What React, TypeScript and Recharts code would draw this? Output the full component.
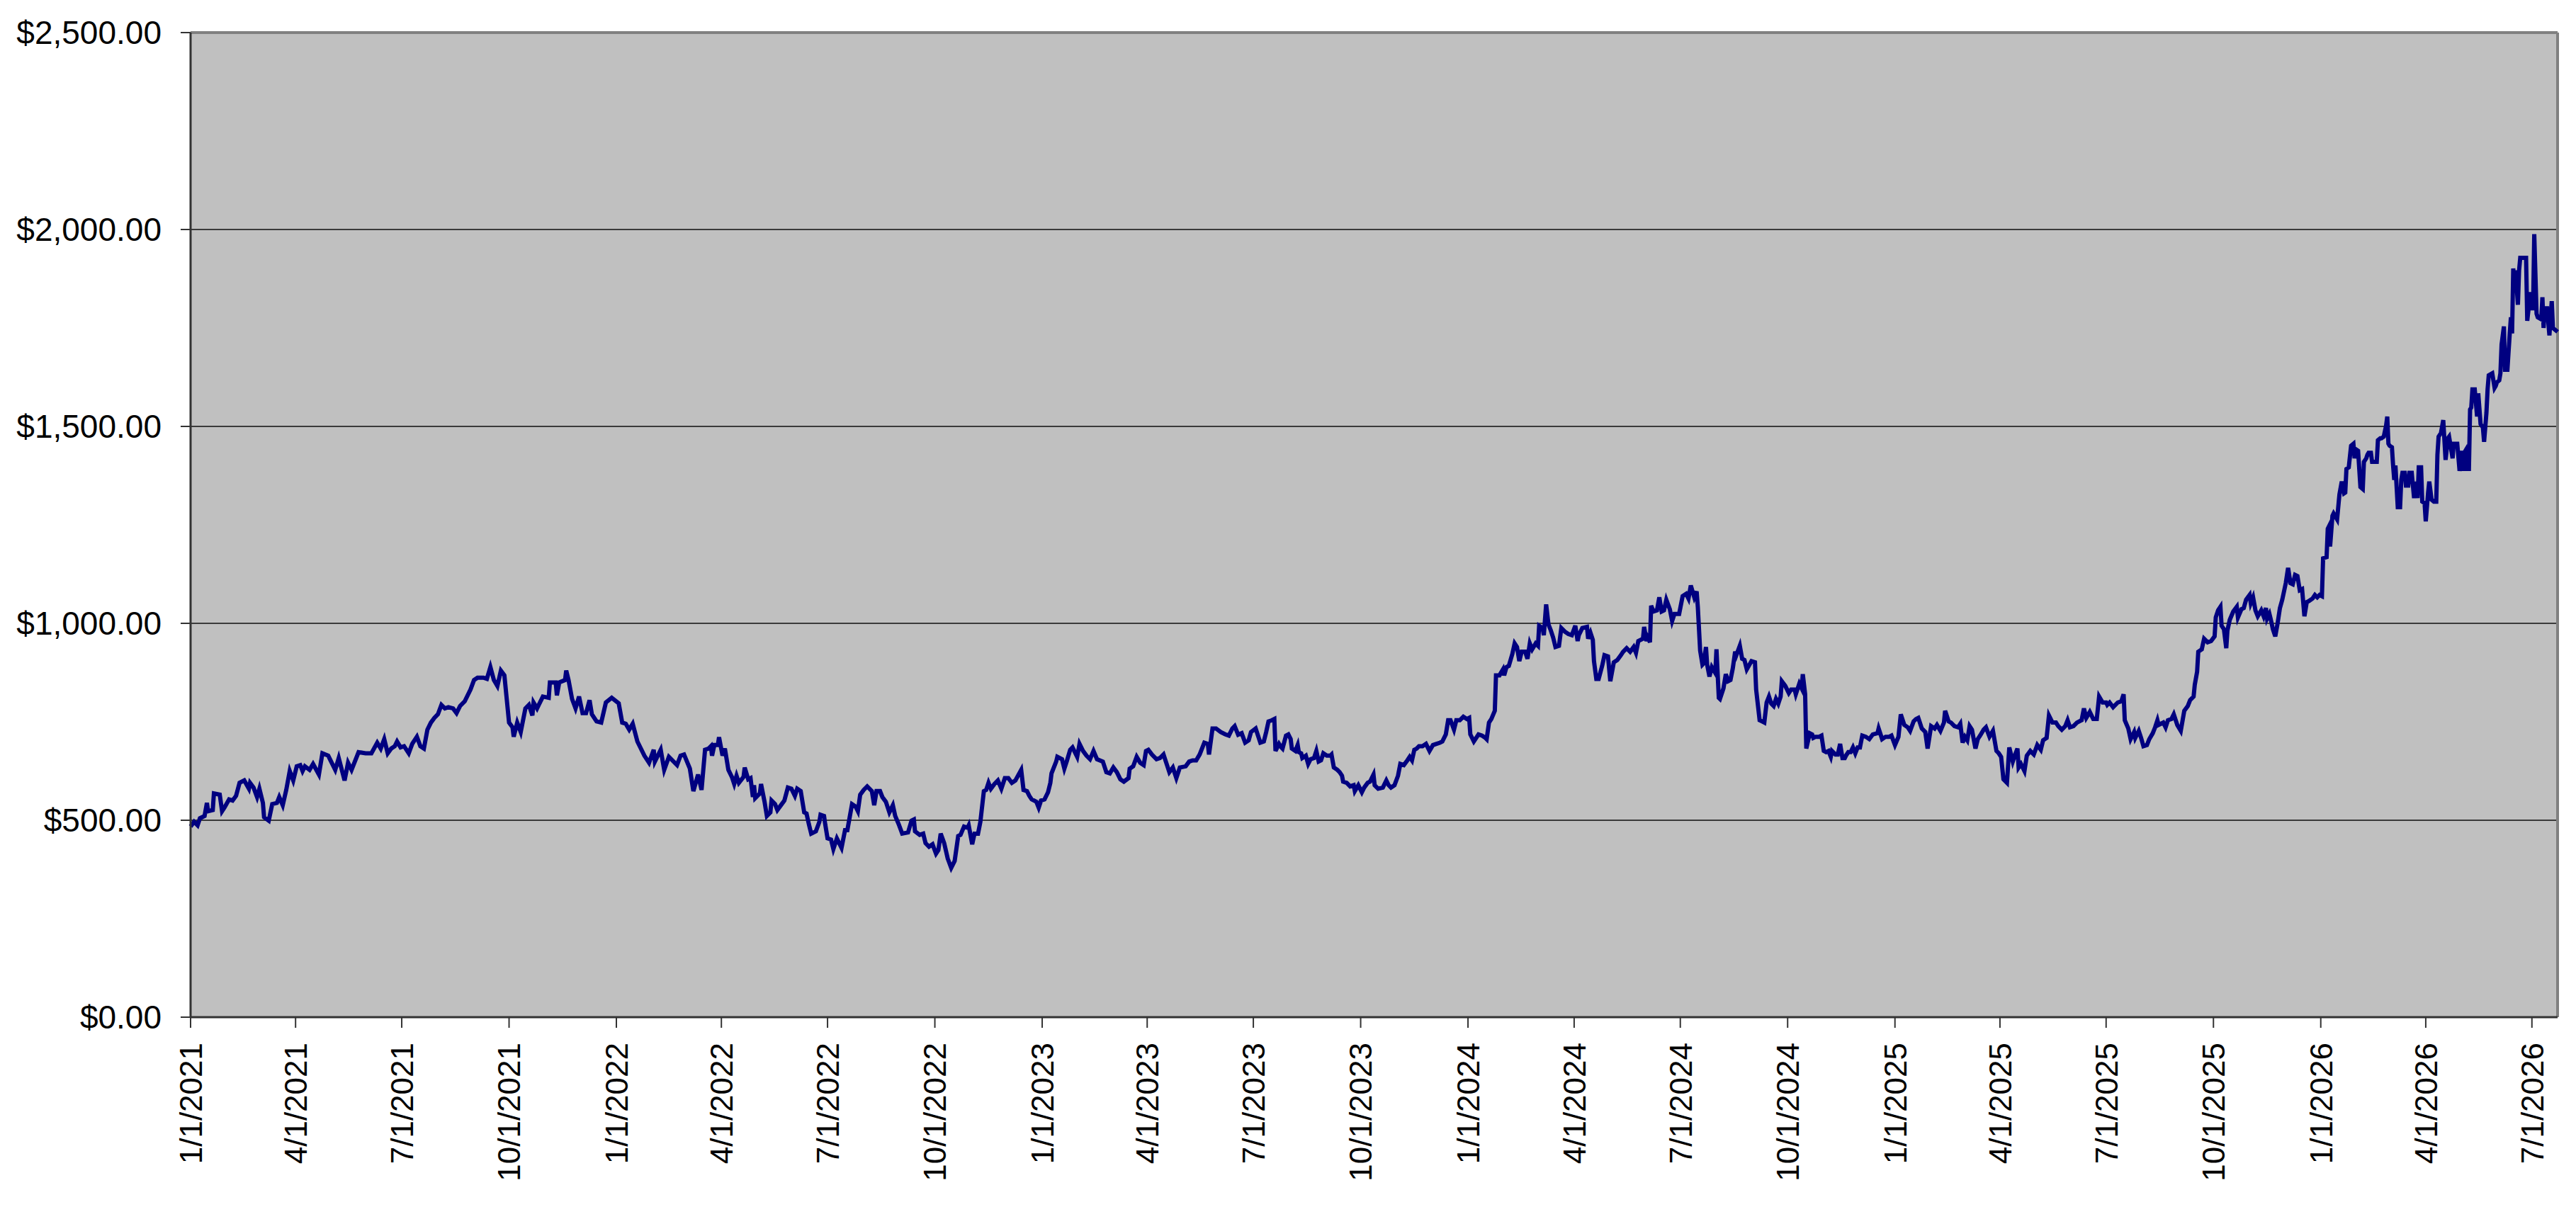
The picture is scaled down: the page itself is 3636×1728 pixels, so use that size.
import { LineChart, Line, XAxis, YAxis, CartesianGrid, ReferenceLine } from "recharts";

// day offsets from START_DATE
const START_DATE = "2021-01-01";

const dayOffsets = [
  // 2021
  0, 3, 6, 8, 12, 14, 15, 19, 20, 25,
  27, 29, 33, 36, 39, 42, 46, 50, 51, 54,
  57, 59, 62, 63, 67, 70, 74, 76, 79, 82,
  85, 88, 91, 94, 96, 98, 102, 105, 110, 113,
  118, 121, 124, 127, 132, 135, 138, 144, 150, 155,
  160, 163, 166, 169, 172, 175, 177, 180, 183, 187,
  190, 194, 197, 200, 203, 206, 209, 212, 215, 218,
  221, 225, 228, 231, 235, 240, 243, 246, 251, 254,
  257, 260, 263, 266, 269, 271, 273, 276, 277, 280,
  283, 287, 290, 293, 294, 297, 302, 307, 308, 313,
  314, 316, 321, 322, 324, 327, 330, 333, 336, 339,
  342, 344, 348, 352, 356, 361, 367, 370, 373, 376,
  379, 383, 389, 393, 397, 398, 403, 406, 410, 417,
  420, 423, 428, 431, 435, 438, 441, 444,
  // 2022
  446, 447, 449, 452, 453, 456, 458, 461, 464, 466,
  468, 470, 474, 475, 478, 480, 482, 483, 484, 488,
  489, 492, 494, 497, 498, 501, 503, 506, 509, 512,
  515, 518, 520, 523, 526, 528, 530, 532, 536, 539,
  540, 543, 544, 546, 549, 551, 554, 558, 561, 563,
  567, 570, 572, 574, 577, 580, 584, 586, 588, 591,
  593, 596, 599, 602, 604, 607, 610, 615, 618, 620,
  621, 625, 628, 630, 633, 636, 639, 641, 643, 646,
  649, 652, 655, 658, 660, 663, 666, 667, 670, 672,
  675, 677, 680, 682, 684, 686, 689, 692, 695, 698,
  701, 704, 707, 712, 714, 717, 719, 721, 725, 727,
  729, 732, 735, 737, 738, 742, 743, 747, 749, 751,
  754, 756, 760, 762, 765, 768, 771, 774, 777, 782,
  785, 788, 791, 794, 797, 800, 804, 805, 808, 811,
  814, 817, 819, 821, 824, 828, 831, 834, 836, 839,
  842, 845, 848, 853, 856, 859, 862, 865, 869, 872,
  873, 876, 879, 883, 887, 890, 893, 895, 898, 901,
  904, 907, 909, 913, 917,
  // 2023 - 2024
  920, 922, 924, 927, 929, 930, 933, 935, 936, 939,
  941, 943, 944, 947, 949, 950, 952, 953, 956, 958,
  960, 963, 965, 967, 969, 971, 974, 977, 978, 980,
  983, 985, 987, 988, 991, 994, 997, 998, 1001, 1004,
  1006, 1009, 1011, 1014, 1015, 1018, 1022, 1025, 1027, 1029,
  1032, 1035, 1037, 1040, 1043, 1045, 1047, 1049, 1051, 1053,
  1056, 1059, 1062, 1065, 1068, 1071, 1073, 1076, 1078, 1080,
  1083, 1085, 1088, 1091, 1094, 1096, 1097, 1100, 1104, 1107,
  1110, 1111, 1113, 1115, 1118, 1119, 1122, 1125, 1126, 1128,
  1130, 1133, 1135, 1137, 1139, 1141, 1144, 1146, 1148, 1150,
  1153, 1155, 1156, 1159, 1160, 1162, 1164, 1166, 1168, 1170,
  1173, 1175, 1178, 1181, 1184, 1187, 1189, 1190, 1193, 1197,
  1198, 1200, 1202, 1203, 1205, 1207, 1210, 1212, 1215, 1217,
  1220, 1223, 1226, 1228, 1231, 1234, 1237, 1239, 1241, 1245,
  1246, 1248, 1249, 1251, 1252, 1254, 1257, 1259, 1261, 1263,
  1265, 1268, 1270, 1272, 1276, 1279, 1282, 1284, 1286, 1289,
  1291, 1292, 1294, 1296, 1297, 1299, 1300, 1302, 1304, 1307,
  1308, 1310, 1311, 1314, 1316, 1318, 1320, 1322, 1324, 1325,
  1328, 1330, 1332, 1334, 1338, 1341, 1342, 1345, 1347, 1349,
  1351, 1353, 1355, 1357, 1359, 1361, 1363, 1364, 1367, 1370,
  1372, 1375, 1376, 1379,
  // 2024 - 2025
  1381, 1382, 1384, 1385, 1388, 1390, 1391, 1393, 1396, 1398,
  1400, 1402, 1404, 1406, 1407, 1410, 1412, 1414, 1416, 1418,
  1419, 1421, 1423, 1425, 1427, 1429, 1431, 1433, 1436, 1439,
  1442, 1446, 1447, 1450, 1453, 1456, 1458, 1461, 1464, 1466,
  1469, 1472, 1474, 1477, 1479, 1481, 1484, 1487, 1489, 1492,
  1495, 1497, 1500, 1503, 1504, 1507, 1509, 1512, 1515, 1517,
  1519, 1521, 1523, 1525, 1527, 1530, 1532, 1534, 1537, 1539,
  1542, 1545, 1548, 1550, 1552, 1554, 1557, 1559, 1562, 1564,
  1566, 1567, 1569, 1572, 1574, 1577, 1580, 1583, 1586, 1588,
  1591, 1593, 1596, 1599, 1601, 1604, 1607, 1609, 1611, 1614,
  1617, 1621, 1623, 1625, 1628, 1631, 1634, 1636, 1639, 1642,
  1643, 1645, 1648, 1652, 1655, 1657, 1658, 1661, 1663, 1666,
  1667, 1670, 1672, 1674, 1677, 1679, 1682, 1684, 1686, 1687,
  1689, 1691, 1693, 1695, 1698, 1700, 1701, 1703, 1706, 1709,
  1712, 1714, 1717, 1718, 1720, 1721, 1724, 1726, 1729, 1732,
  1735, 1736, 1738, 1740, 1741, 1743, 1745, 1746, 1748, 1751,
  1754, 1755, 1758, 1760, 1762, 1765, 1766, 1768, 1770, 1772,
  1775, 1777, 1779, 1780, 1782, 1783, 1785, 1787, 1789, 1791,
  1793, 1796, 1798, 1800, 1802, 1804, 1806, 1808, 1810, 1812,
  1814, 1816, 1819, 1821, 1823, 1825, 1827, 1828, 1831, 1832,
  1833, 1834, 1836, 1837, 1840, 1842, 1844, 1846,
  // 2026
  1847, 1848, 1850, 1852, 1854, 1855, 1856, 1858, 1860, 1862,
  1863, 1865, 1866, 1867, 1869, 1870, 1871, 1874, 1875, 1877,
  1878, 1880, 1882, 1883, 1884, 1885, 1887, 1888, 1889, 1890,
  1892, 1894, 1895, 1896, 1898, 1899, 1901, 1902, 1904, 1906,
  1907, 1909, 1910, 1912, 1913, 1915, 1916, 1918, 1919, 1921,
  1923, 1925, 1926, 1927, 1929, 1931, 1933, 1935, 1936, 1937,
  1939, 1940, 1943, 1945, 1947, 1948, 1949, 1950, 1951, 1953,
  1954, 1955, 1956, 1958, 1960, 1961, 1963, 1965, 1966, 1968,
  1969, 1970, 1973, 1975, 1976, 1977, 1979, 1980, 1981, 1982,
  1983, 1984, 1986, 1988, 1989, 1990, 1991, 1992, 1993, 1995,
  1996, 1997, 2000, 2002, 2003, 2004, 2005, 2006, 2008, 2009,
  2011, 2012, 2015, 2016, 2017, 2018, 2020, 2022, 2023, 2024,
  2025, 2027, 2029,
];

const prices = [
  // 2021
  484, 496, 487, 505, 511, 544, 523, 526, 568, 565,
  523, 532, 553, 550, 562, 595, 601, 580, 595, 583,
  559, 580, 544, 508, 499, 541, 544, 559, 538, 577,
  625, 601, 637, 640, 625, 637, 628, 643, 616, 670,
  664, 646, 628, 658, 601, 646, 628, 673, 670, 670,
  697, 682, 706, 670, 682, 688, 700, 685, 688, 670,
  694, 712, 688, 682, 730, 748, 760, 769, 793, 784,
  787, 784, 772, 790, 802, 832, 856, 862, 862, 859,
  889, 856, 841, 880, 868, 808, 748, 736, 712, 748,
  724, 784, 793, 766, 799, 784, 814, 811, 850, 850,
  817, 850, 856, 880, 856, 808, 784, 814, 772, 772,
  805, 769, 751, 748, 799, 811, 797, 748, 745, 730,
  745, 700, 664, 646, 679, 649, 679, 628, 661, 640,
  664, 667, 631, 574, 616, 577, 679, 682,
  // 2022
  688, 664, 691, 691, 711, 664, 682, 628, 610, 592,
  613, 595, 610, 634, 604, 607, 559, 589, 556, 568,
  592, 547, 511, 520, 550, 541, 526, 538, 550, 583,
  580, 562, 580, 574, 520, 517, 490, 466, 472, 496,
  514, 511, 490, 454, 451, 427, 454, 430, 475, 475,
  541, 535, 523, 565, 577, 586, 574, 538, 574, 574,
  559, 547, 520, 538, 511, 490, 466, 469, 499, 502,
  472, 463, 466, 442, 433, 439, 415, 424, 466, 442,
  403, 379, 397, 460, 463, 484, 481, 487, 439, 466,
  466, 496, 574, 577, 595, 580, 592, 601, 580, 607,
  607, 595, 601, 628, 577, 574, 562, 553, 547, 532,
  550, 553, 571, 595, 619, 649, 661, 655, 631, 649,
  679, 685, 661, 694, 676, 664, 655, 676, 655, 649,
  622, 619, 634, 622, 604, 598, 607, 631, 637, 661,
  646, 640, 676, 679, 667, 655, 658, 667, 649, 622,
  634, 607, 634, 637, 649, 652, 652, 667, 697, 694,
  667, 733, 733, 724, 718, 715, 733, 739, 717, 721,
  697, 703, 724, 733, 697,
  // 2023 - 2024
  700, 724, 751, 754, 757, 676, 694, 685, 682, 715,
  718, 706, 682, 676, 691, 673, 670, 658, 664, 643,
  655, 658, 676, 649, 652, 670, 664, 664, 667, 634,
  628, 622, 613, 598, 595, 586, 589, 574, 589, 571,
  583, 595, 598, 616, 589, 580, 583, 601, 589, 583,
  589, 613, 643, 640, 652, 661, 652, 679, 682, 688,
  688, 694, 676, 691, 694, 697, 700, 718, 754, 754,
  730, 754, 754, 763, 757, 760, 718, 700, 718, 715,
  709, 706, 748, 757, 778, 868, 868, 883, 868, 889,
  892, 922, 949, 940, 904, 928, 928, 910, 949, 934,
  949, 943, 994, 988, 970, 1048, 997, 982, 964, 940,
  943, 988, 979, 973, 970, 994, 955, 970, 988, 991,
  961, 976, 958, 904, 859, 859, 892, 919, 916, 853,
  901, 907, 919, 928, 937, 928, 940, 925, 955, 961,
  991, 955, 964, 952, 1045, 1030, 1033, 1066, 1030, 1033,
  1060, 1036, 1006, 1024, 1024, 1069, 1075, 1063, 1096, 1066,
  1081, 1042, 931, 895, 898, 940, 895, 865, 889, 874,
  934, 811, 808, 835, 871, 853, 856, 886, 928, 919,
  943, 910, 907, 883, 904, 901, 832, 754, 751, 748,
  799, 814, 796, 790, 808, 796, 814, 853, 841, 823,
  832, 832, 820, 847,
  // 2024 - 2025
  835, 871, 820, 682, 721, 718, 709, 712, 712, 715,
  676, 673, 676, 661, 676, 667, 667, 694, 658, 658,
  664, 673, 673, 685, 670, 685, 685, 715, 712, 706,
  718, 721, 733, 706, 712, 712, 715, 691, 712, 769,
  742, 736, 727, 751, 757, 760, 733, 724, 682, 739,
  733, 742, 727, 748, 778, 751, 748, 739, 736, 745,
  697, 712, 703, 739, 730, 682, 706, 715, 730, 736,
  712, 727, 676, 670, 661, 604, 595, 685, 649, 667,
  682, 634, 643, 625, 664, 676, 667, 691, 679, 703,
  709, 766, 748, 748, 739, 730, 739, 754, 736, 739,
  748, 754, 784, 760, 775, 757, 757, 814, 799, 799,
  793, 799, 787, 799, 802, 820, 754, 733, 706, 724,
  709, 727, 709, 688, 691, 706, 721, 736, 754, 742,
  745, 748, 736, 754, 757, 769, 760, 742, 727, 778,
  790, 805, 814, 844, 877, 928, 934, 961, 952, 955,
  967, 1015, 1033, 1042, 994, 985, 937, 982, 1009, 1030,
  1042, 1015, 1036, 1039, 1060, 1072, 1051, 1066, 1033, 1018,
  1033, 1018, 1039, 1012, 1024, 1012, 985, 967, 1000, 1039,
  1060, 1102, 1141, 1102, 1099, 1123, 1120, 1084, 1087, 1018,
  1054, 1057, 1063, 1072, 1066, 1072, 1069, 1165, 1168, 1240,
  1246, 1195, 1273, 1279, 1264, 1327, 1360, 1330,
  // 2026
  1332, 1392, 1396, 1451, 1456, 1419, 1442, 1438, 1346, 1341,
  1410, 1419, 1428, 1433, 1433, 1410, 1410, 1410, 1465, 1470,
  1470, 1474, 1502, 1525, 1456, 1451, 1447, 1401, 1364, 1401,
  1295, 1295, 1364, 1382, 1382, 1350, 1350, 1382, 1382, 1318,
  1360, 1318, 1396, 1396, 1309, 1305, 1259, 1332, 1360, 1314,
  1309, 1309, 1428, 1474, 1483, 1516, 1415, 1470, 1474, 1456,
  1419, 1456, 1456, 1387, 1438, 1387, 1433, 1438, 1392, 1392,
  1543, 1548, 1594, 1594, 1525, 1584, 1506, 1497, 1461, 1534,
  1594, 1630, 1635, 1598, 1603, 1612, 1617, 1635, 1708, 1731,
  1754, 1644, 1644, 1736, 1777, 1736, 1901, 1864, 1896, 1809,
  1896, 1928, 1928, 1928, 1768, 1795, 1841, 1800, 1800, 1988,
  1786, 1777, 1772, 1828, 1750, 1800, 1800, 1731, 1777, 1818,
  1750, 1745, 1740,
];

const quarterTicks = [
  "2021-01-01", "2021-04-01", "2021-07-01", "2021-10-01",
  "2022-01-01", "2022-04-01", "2022-07-01", "2022-10-01",
  "2023-01-01", "2023-04-01", "2023-07-01", "2023-10-01",
  "2024-01-01", "2024-04-01", "2024-07-01", "2024-10-01",
  "2025-01-01", "2025-04-01", "2025-07-01", "2025-10-01",
  "2026-01-01", "2026-04-01", "2026-07-01",
];

const priceTicks = [0, 500, 1000, 1500, 2000, 2500];

const DAY_MS = 24 * 60 * 60 * 1000;
const start = Date.parse(START_DATE);
const n = Math.min(dayOffsets.length, prices.length);
const data = dayOffsets.slice(0, n).map((d, i) => ({ date: start + d * DAY_MS, price: prices[i] }));
const xTicks = quarterTicks.map((s) => Date.parse(s));
const xMin = data[0].date;
const xMax = data[data.length - 1].date;

const FONT = "'Liberation Sans', Arial, sans-serif";

function money(v: number) {
  const whole = Math.round(v).toString().replace(/\B(?=(\d{3})+(?!\d))/g, ",");
  return `$${whole}.00`;
}

function DateTick(props: any) {
  const { x, y, payload } = props;
  const d = new Date(payload.value);
  const label = `${d.getUTCMonth() + 1}/${d.getUTCDate()}/${d.getUTCFullYear()}`;
  return (
    <g transform={`translate(${x},${y})`}>
      <text
        transform="rotate(-90)"
        x={-21}
        y={0}
        dy="0.36em"
        textAnchor="end"
        fontSize={44}
        fontFamily={FONT}
        fill="#000"
      >
        {label}
      </text>
    </g>
  );
}

export default function App() {
  return (
    <div style={{ width: 3620, height: 1712, background: "#fff" }}>
      <LineChart
        width={3620}
        height={1712}
        data={data}
        margin={{ top: 38, right: 18, bottom: 0, left: 0 }}
      >
        <CartesianGrid
          horizontal
          vertical={false}
          stroke="#3a3a3a"
          strokeWidth={2}
          fill="#C0C0C0"
          fillOpacity={1}
        />
        <XAxis
          dataKey="date"
          type="number"
          domain={[xMin, xMax]}
          ticks={xTicks}
          interval={0}
          height={284}
          tickSize={15}
          tickMargin={0}
          tick={<DateTick />}
          axisLine={{ stroke: "#333", strokeWidth: 3 }}
          tickLine={{ stroke: "#333", strokeWidth: 2 }}
        />
        <YAxis
          type="number"
          domain={[0, 2500]}
          ticks={priceTicks}
          interval={0}
          width={261}
          tickSize={14}
          tickMargin={27}
          tickFormatter={money}
          tick={{ fill: "#000", fontSize: 46, fontFamily: FONT }}
          axisLine={{ stroke: "#333", strokeWidth: 3 }}
          tickLine={{ stroke: "#333", strokeWidth: 2 }}
        />
        <ReferenceLine y={2500} stroke="#808080" strokeWidth={4} />
        <ReferenceLine x={xMax} stroke="#808080" strokeWidth={4} />
        <Line
          type="linear"
          dataKey="price"
          stroke="#000080"
          strokeWidth={6}
          dot={false}
          isAnimationActive={false}
        />
      </LineChart>
    </div>
  );
}
